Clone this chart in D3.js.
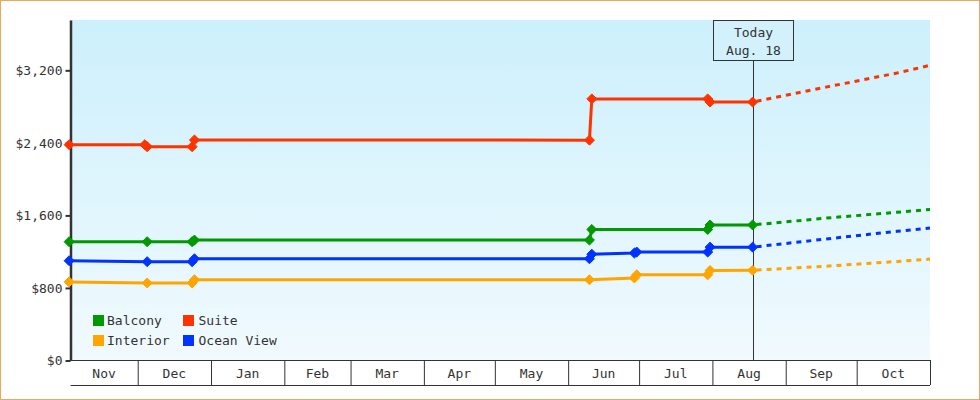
<!DOCTYPE html>
<html>
<head>
<meta charset="utf-8">
<script src="https://cdn.jsdelivr.net/npm/d3@7"></script>
<style>
  body { margin: 0; background: #fff; }
  svg text { font-family: "DejaVu Sans Mono", monospace; font-size: 13px; fill: #333; }
</style>
</head>
<body>
<svg></svg>
<script>
// price history, one pair of arrays per cabin type
var suiteDates = ["2014-11-02", "2014-12-04", "2014-12-05", "2014-12-24", "2014-12-25", "2015-06-10", "2015-06-11", "2015-07-30", "2015-07-31", "2015-08-18"];
var suiteValues = [2380, 2380, 2358, 2358, 2432, 2430, 2885, 2885, 2850, 2850];

var balconyDates = ["2014-11-02", "2014-12-05", "2014-12-24", "2014-12-25", "2015-06-10", "2015-06-11", "2015-07-30", "2015-07-31", "2015-08-18"];
var balconyValues = [1310, 1310, 1310, 1328, 1328, 1445, 1445, 1495, 1495];

var oceanDates = ["2014-11-02", "2014-12-05", "2014-12-24", "2014-12-25", "2015-06-10", "2015-06-11", "2015-06-29", "2015-06-30", "2015-07-30", "2015-07-31", "2015-08-18"];
var oceanValues = [1100, 1090, 1090, 1122, 1122, 1172, 1185, 1196, 1196, 1250, 1250];

var interiorDates = ["2014-11-02", "2014-12-05", "2014-12-24", "2014-12-25", "2015-06-10", "2015-06-29", "2015-06-30", "2015-07-30", "2015-07-31", "2015-08-18"];
var interiorValues = [867, 855, 855, 890, 890, 910, 945, 945, 993, 995];

// forecast after today
var forecastDates = ["2015-08-18", "2015-09-18", "2015-10-18", "2015-11-01"];
var suiteForecast = [2850, 3015, 3170, 3255];
var balconyForecast = [1495, 1570, 1635, 1665];
var oceanForecast = [1250, 1340, 1425, 1460];
var interiorForecast = [995, 1040, 1092, 1118];

var yTicks = [0, 800, 1600, 2400, 3200];
var todayDate = "2015-08-18";
var todayLabel = ["Today", "Aug. 18"];

var svgWidth = 980, svgHeight = 400;
var parse = d3.timeParse("%Y-%m-%d");

var svg = d3.select("svg")
    .attr("width", svgWidth)
    .attr("height", svgHeight);

svg.append("rect")
    .attr("x", 0.5).attr("y", 0.5)
    .attr("width", svgWidth - 1)
    .attr("height", svgHeight - 1)
    .attr("fill", "white")
    .style("stroke", "#e8a860")
    .style("stroke-width", "1");

var plotLeft = 70.5, plotRight = 930, plotTop = 20, plotBottom = 360.5;

var xScale = d3.scaleTime()
    .domain([new Date(2014, 10, 2, 14), new Date(2015, 10, 1)])
    .range([plotLeft, plotRight]);

var yScale = d3.scaleLinear()
    .domain([0, 3755])
    .range([plotBottom, plotTop]);

var grad = svg.append("defs").append("linearGradient")
    .attr("id", "bg")
    .attr("x1", 0).attr("y1", 0).attr("x2", 0).attr("y2", 1);
grad.append("stop").attr("offset", "0%").attr("stop-color", "#ccf0fc");
grad.append("stop").attr("offset", "100%").attr("stop-color", "#f1fafe");

svg.append("rect")
    .attr("x", plotLeft)
    .attr("y", plotTop)
    .attr("width", plotRight - plotLeft)
    .attr("height", plotBottom - plotTop)
    .attr("fill", "url(#bg)");

// month cells under the plot
var x_axis = d3.axisBottom()
    .scale(xScale)
    .ticks(d3.timeMonth.every(1))
    .tickSize(25)
    .tickSizeOuter(0)
    .tickFormat("");

var xg = svg.append("g")
    .attr("transform", "translate(0," + 360 + ")")
    .call(x_axis);
xg.select(".domain").remove();
xg.selectAll(".tick line").style("stroke", "#333");

svg.append("line")
    .attr("x1", plotLeft).attr("x2", plotRight)
    .attr("y1", 360.5).attr("y2", 360.5)
    .style("stroke", "#333");
svg.append("line")
    .attr("x1", plotLeft).attr("x2", plotRight)
    .attr("y1", 385.5).attr("y2", 385.5)
    .style("stroke", "#333");

var months = d3.timeMonth.range(d3.timeMonth.floor(xScale.domain()[0]), xScale.domain()[1]);
svg.selectAll(".mlabel")
    .data(months)
    .enter().append("text")
    .attr("class", "mlabel")
    .attr("x", function(d) {
        var a = Math.max(xScale(d), plotLeft);
        var b = xScale(d3.timeMonth.offset(d, 1));
        return (a + b) / 2;
    })
    .attr("y", 378)
    .attr("text-anchor", "middle")
    .text(d3.timeFormat("%b"));

// y axis
var y_axis = d3.axisLeft()
    .scale(yScale)
    .tickValues(yTicks)
    .tickSize(5)
    .tickSizeOuter(0)
    .tickFormat(function(d) { return "$" + d3.format(",")(d); });

var yg = svg.append("g")
    .attr("transform", "translate(" + plotLeft + ",0)")
    .call(y_axis);
yg.select(".domain").style("stroke", "#333").style("stroke-width", "2.5");
yg.selectAll(".tick line").style("stroke", "#333").style("stroke-width", "2");
yg.selectAll(".tick text")
    .attr("x", -8)
    .style("font-family", "'DejaVu Sans Mono', monospace")
    .style("font-size", "13px")
    .attr("fill", "#333");

// today marker
var tx = Math.round(xScale(parse(todayDate))) + 0.5;
svg.append("line")
    .attr("x1", tx).attr("x2", tx)
    .attr("y1", 60).attr("y2", plotBottom)
    .style("stroke", "#333")
    .style("stroke-width", "1");
svg.append("rect")
    .attr("x", tx - 40).attr("y", 20.5)
    .attr("width", 80).attr("height", 40)
    .attr("fill", "#d2f1fc")
    .style("stroke", "#333");
svg.selectAll(".today")
    .data(todayLabel)
    .enter().append("text")
    .attr("x", tx)
    .attr("y", function(d, i) { return 37 + i * 18; })
    .attr("text-anchor", "middle")
    .text(function(d) { return d; });

var series = [
    { name: "Suite", color: "#ff3300", dates: suiteDates, values: suiteValues, fc: suiteForecast },
    { name: "Balcony", color: "#009900", dates: balconyDates, values: balconyValues, fc: balconyForecast },
    { name: "Ocean View", color: "#0033ff", dates: oceanDates, values: oceanValues, fc: oceanForecast },
    { name: "Interior", color: "#ffa500", dates: interiorDates, values: interiorValues, fc: interiorForecast }
];

var line = d3.line()
    .x(function(d) { return xScale(d[0]); })
    .y(function(d) { return yScale(d[1]); });

var diamond = d3.symbol().type(d3.symbolDiamond2).size(64);

series.forEach(function(s) {
    var pts = s.dates.map(function(d, i) { return [parse(d), s.values[i]]; });
    var fpts = forecastDates.map(function(d, i) { return [parse(d), s.fc[i]]; });

    svg.append("path")
        .attr("d", line(fpts))
        .attr("fill", "none")
        .style("stroke", s.color)
        .style("stroke-width", "3")
        .style("stroke-dasharray", "5,5")
        .style("stroke-dashoffset", "-4");

    svg.append("path")
        .attr("d", line(pts))
        .attr("fill", "none")
        .style("stroke", s.color)
        .style("stroke-width", "3");

    svg.selectAll(null)
        .data(pts)
        .enter().append("path")
        .attr("d", diamond)
        .attr("transform", function(d) { return "translate(" + xScale(d[0]) + "," + yScale(d[1]) + ")"; })
        .attr("fill", s.color)
        .style("stroke", s.color)
        .style("stroke-width", "1")
        .style("stroke-linejoin", "round");
});

// legend
var legendNames = ["Balcony", "Suite", "Interior", "Ocean View"];
var legendColors = ["#009900", "#ff3300", "#ffa500", "#0033ff"];

var lg = svg.selectAll(".legend")
    .data(legendNames)
    .enter().append("g")
    .attr("transform", function(d, i) {
        return "translate(" + (93 + (i % 2) * 90) + "," + (315 + Math.floor(i / 2) * 20) + ")";
    });
lg.append("rect")
    .attr("width", 11).attr("height", 11)
    .attr("fill", function(d, i) { return legendColors[i]; });
lg.append("text")
    .attr("x", function(d, i) { return i % 2 ? 15.5 : 14; })
    .attr("y", 10)
    .text(function(d) { return d; });
</script>
</body>
</html>
